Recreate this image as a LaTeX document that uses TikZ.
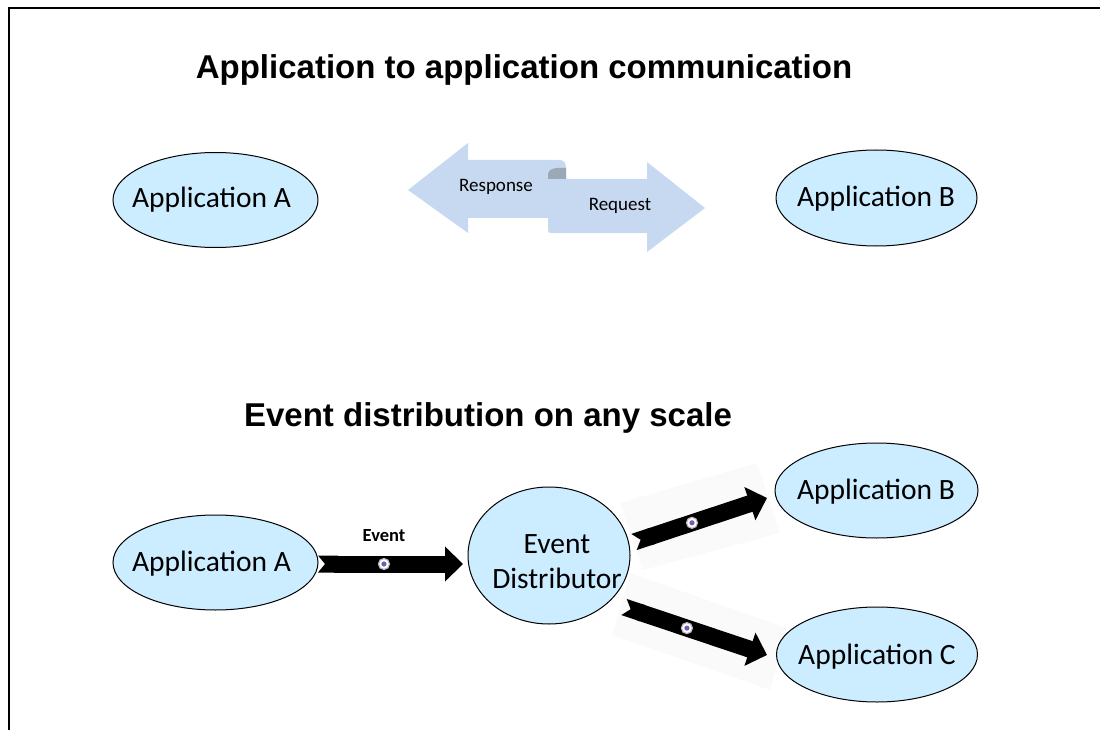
\documentclass[tikz,border=0pt]{standalone}
\usepackage{fontspec}
\setmainfont{Carlito}
\newfontfamily\arialfont{Liberation Sans}
\usetikzlibrary{shapes.geometric,arrows.meta}
\definecolor{ellfill}{RGB}{204,236,255}
\definecolor{arrblue}{RGB}{198,217,240}
\definecolor{curlgray}{RGB}{155,168,182}
\definecolor{dotpurple}{RGB}{120,90,180}
\definecolor{shadowbox}{RGB}{250,250,250}
\begin{document}
\begin{tikzpicture}[x=1pt,y=-1pt,
  app/.style={ellipse, draw=black, line width=1pt, fill=ellfill, inner sep=0pt},
  apptext/.style={font=\fontsize{29.5}{35}\selectfont, align=center, inner sep=0pt},
  titletext/.style={font=\arialfont\bfseries\fontsize{33}{39}\selectfont, anchor=base},
  smalllbl/.style={font=\fontsize{19}{22}\selectfont},
  evarrow/.style={line width=17pt, draw=black,
    {Triangle Cap[reversed,length=7pt]}-{Triangle[width=34pt,length=18pt]}},
  evdot/.style={circle, draw=gray!55, fill=white, line width=1.2pt, minimum size=11pt, inner sep=0pt,
    path picture={\fill[dotpurple] (path picture bounding box.center) circle (2.6pt);}}]
\useasboundingbox (0,0) rectangle (1100,730);
% frame
\draw[line width=1.3pt] (9,730) -- (9,8) -- (1100,8);

% titles
\node[titletext] (t1) at (524,79) {Application to application communication};
\node[titletext] (t2) at (488,426) {Event distribution on any scale};

% top row
\node[app, minimum width=205pt, minimum height=95pt] (aa1) at (215.5,200) {};
\node[apptext] (aa1t) at (211.5,200) {Application A};
\node[app, minimum width=201pt, minimum height=96pt] (ab1) at (876.5,198) {};
\node[apptext] (ab1t) at (876,199) {Application B};

% double arrow
\fill[arrblue] (408,190) -- (468,143) -- (468,160) -- (558,160)
  .. controls (566,160) and (566,164) .. (566,170) -- (566,218) -- (468,218) -- (468,233) -- cycle;
\fill[arrblue] (548,179) -- (647,179) -- (647,162) -- (705,208) -- (647,252) -- (647,233) -- (554,233)
  .. controls (548,233) .. (548,227) -- cycle;
\fill[curlgray] (548,179) -- (548,174) .. controls (548,169) and (556,167) .. (566,168) -- (566,179) -- cycle;
\node[smalllbl] (resp) at (496,187) {Response};
\node[smalllbl] (req) at (620,206) {Request};

% faint backgrounds of the diagonal arrows
\fill[shadowbox] (620,503) -- (757,463) -- (780,533) -- (643,570) -- cycle;
\fill[shadowbox] (630,573) -- (787,628) -- (770,690) -- (612,635) -- cycle;

% bottom row
\node[app, minimum width=205pt, minimum height=95pt] (aa2) at (215.5,562.5) {};
\node[apptext] (aa2t) at (211.5,564) {Application A};
\node[app, minimum width=162pt, minimum height=137pt] (ed) at (549,555.5) {};
\node[apptext] (edt) at (557,562) {Event\\Distributor};
\node[app, minimum width=203pt, minimum height=95pt] (ab2) at (876.5,490.5) {};
\node[apptext] (ab2t) at (876,492) {Application B};
\node[app, minimum width=201pt, minimum height=95pt] (ac2) at (877,654.5) {};
\node[apptext] (ac2t) at (877,657) {Application C};

\coordinate (e1s) at (318,564);
\coordinate (e1e) at (463,564);
\coordinate (e2s) at (634,542);
\coordinate (e2e) at (767,498);
\coordinate (e3s) at (624,607);
\coordinate (e3e) at (767,655);

\draw[evarrow] (e1s) -- (e1e) node[pos=0.455, evdot] (d1) {};
\draw[evarrow] (e2s) -- (e2e) node[pos=0.436, evdot] (d2) {};
\draw[evarrow] (e3s) -- (e3e) node[pos=0.44, evdot] (d3) {};
\node[font=\bfseries\fontsize{18.5}{21}\selectfont] (evl) at (384,536) {Event};
\end{tikzpicture}
\end{document}
